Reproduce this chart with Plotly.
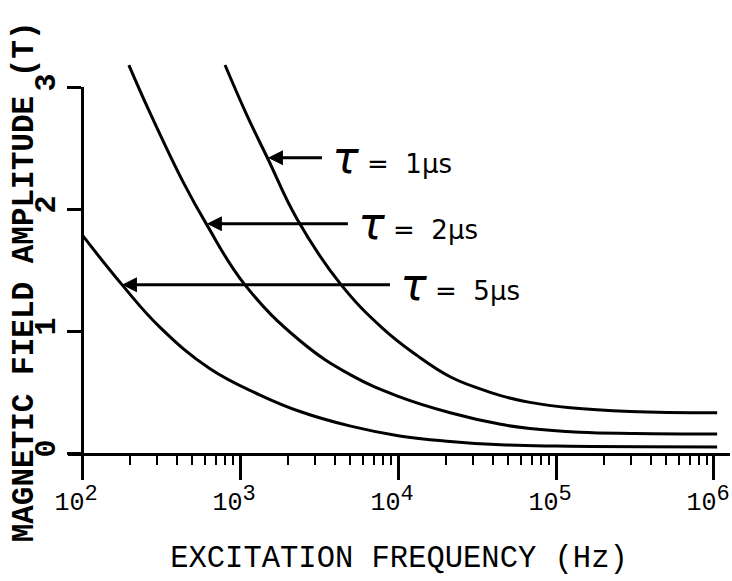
import math
import plotly.graph_objects as go

# ---- data ----
freq_1us = [804, 1096, 1503, 2291, 4295, 8035, 13183, 21380, 33113, 44668, 68391, 123027, 295121, 1047129]
amp_1us = [3.18, 2.78, 2.41, 1.92, 1.39, 1.02, 0.80, 0.625, 0.525, 0.47, 0.415, 0.37, 0.34, 0.33]

freq_2us = [198, 269, 437, 617, 1072, 2399, 5012, 10233, 21380, 44668, 68391, 141254, 316228, 1047129]
amp_2us = [3.18, 2.79, 2.22, 1.87, 1.38, 0.92, 0.64, 0.46, 0.33, 0.235, 0.20, 0.17, 0.16, 0.155]

freq_5us = [100, 179, 312, 646, 1340, 2399, 5012, 10233, 21380, 44668, 100000, 1047129]
amp_5us = [1.79, 1.38, 1.03, 0.69, 0.475, 0.34, 0.22, 0.14, 0.095, 0.068, 0.057, 0.05]

# label, freqs, amps, arrow-tip frequency, arrow-tip amplitude, arrow length (px)
series = [
    ("1", freq_1us, amp_1us, 1503, 2.42, 54),
    ("2", freq_2us, amp_2us, 617, 1.88, 141),
    ("5", freq_5us, amp_5us, 179, 1.38, 268),
]

x_tick_vals = [1e2, 1e3, 1e4, 1e5, 1e6]
x_tick_exps = ["2", "3", "4", "5", "6"]
x_minor_vals = [k * 10 ** e for e in range(2, 6) for k in range(2, 10)]
y_tick_vals = [0, 1, 2, 3]

x_title = "EXCITATION FREQUENCY (Hz)"
y_title = "MAGNETIC FIELD AMPLITUDE (T)"

MONO = "Courier New, Liberation Mono, monospace"

fig = go.Figure()
for name, f, b, tipf, tipb, off in series:
    fig.add_trace(go.Scatter(
        x=f, y=b, mode="lines", name=name + " µs",
        line=dict(color="black", width=3, shape="spline", smoothing=1.2),
        showlegend=False, hoverinfo="skip"))

# dummy trace so the short visible y-axis (0..3) is drawn
fig.add_trace(go.Scatter(x=[], y=[], xaxis="x", yaxis="y2", showlegend=False))

for name, f, b, tipf, tipb, off in series:
    fig.add_annotation(
        x=math.log10(tipf), y=tipb, xref="x", yref="y",
        ax=off, ay=0, axref="pixel", ayref="pixel",
        showarrow=True, arrowhead=2, arrowsize=1.0, arrowwidth=3,
        arrowcolor="black", xanchor="left", yanchor="middle",
        text="\u00a0<span style='font-size:44px'><i>τ</i></span>\u00a0=\u00a0\u00a0" + name + "µs",
        font=dict(family="DejaVu Sans", size=26, color="black"))

fig.add_annotation(
    x=-0.066, y=0.435, xref="paper", yref="paper", showarrow=False,
    text=y_title, textangle=-90, xanchor="center", yanchor="middle",
    font=dict(family=MONO, size=31, color="black", weight="bold"))

W, H = 732, 581
L, R, T, B = 68, 2, 60, 128
plot_h = H - T - B
y_top = plot_h / 122.0
dom_top = (453 - 87) / plot_h

fig.update_layout(
    width=W, height=H,
    margin=dict(l=L, r=R, t=T, b=B),
    paper_bgcolor="white", plot_bgcolor="rgba(0,0,0,0)",
    xaxis=dict(
        type="log", range=[1.9114, 6.1013],
        showline=True, linecolor="black", linewidth=3,
        showgrid=False, zeroline=False,
        ticks="outside", ticklen=24, tickwidth=2.5, tickcolor="black",
        tickvals=x_tick_vals,
        ticktext=["10<sup><span style='font-size:22px'>" + e + "</span></sup>" for e in x_tick_exps],
        ticklabeloverflow="allow", ticklabelshift=-6,
        tickfont=dict(family=MONO, size=25, color="black"),
        minor=dict(ticks="outside", ticklen=9, tickwidth=2, tickcolor="black",
                   tickvals=x_minor_vals, showgrid=False),
        title=dict(text=x_title, font=dict(family=MONO, size=30.5, color="black"), standoff=29),
        automargin=False, anchor="y",
    ),
    yaxis=dict(range=[0, y_top], visible=False, fixedrange=True),
    yaxis2=dict(
        domain=[0, dom_top], range=[0, 3], anchor="free", position=14 / 662,
        showline=True, linecolor="black", linewidth=3,
        showgrid=False, zeroline=False,
        ticks="outside", ticklen=14, tickwidth=3, tickcolor="black",
        tickvals=y_tick_vals, tickangle=-90,
        tickfont=dict(family=MONO, size=30, color="black", weight="bold"),
        automargin=False,
    ),
)

# remove the page's default 8px body margin so the figure fills the window
fig.write_html(
    "out.html",
    config={"displayModeBar": False},
    post_script="document.body.style.margin='0';document.body.style.overflow='hidden';",
)
